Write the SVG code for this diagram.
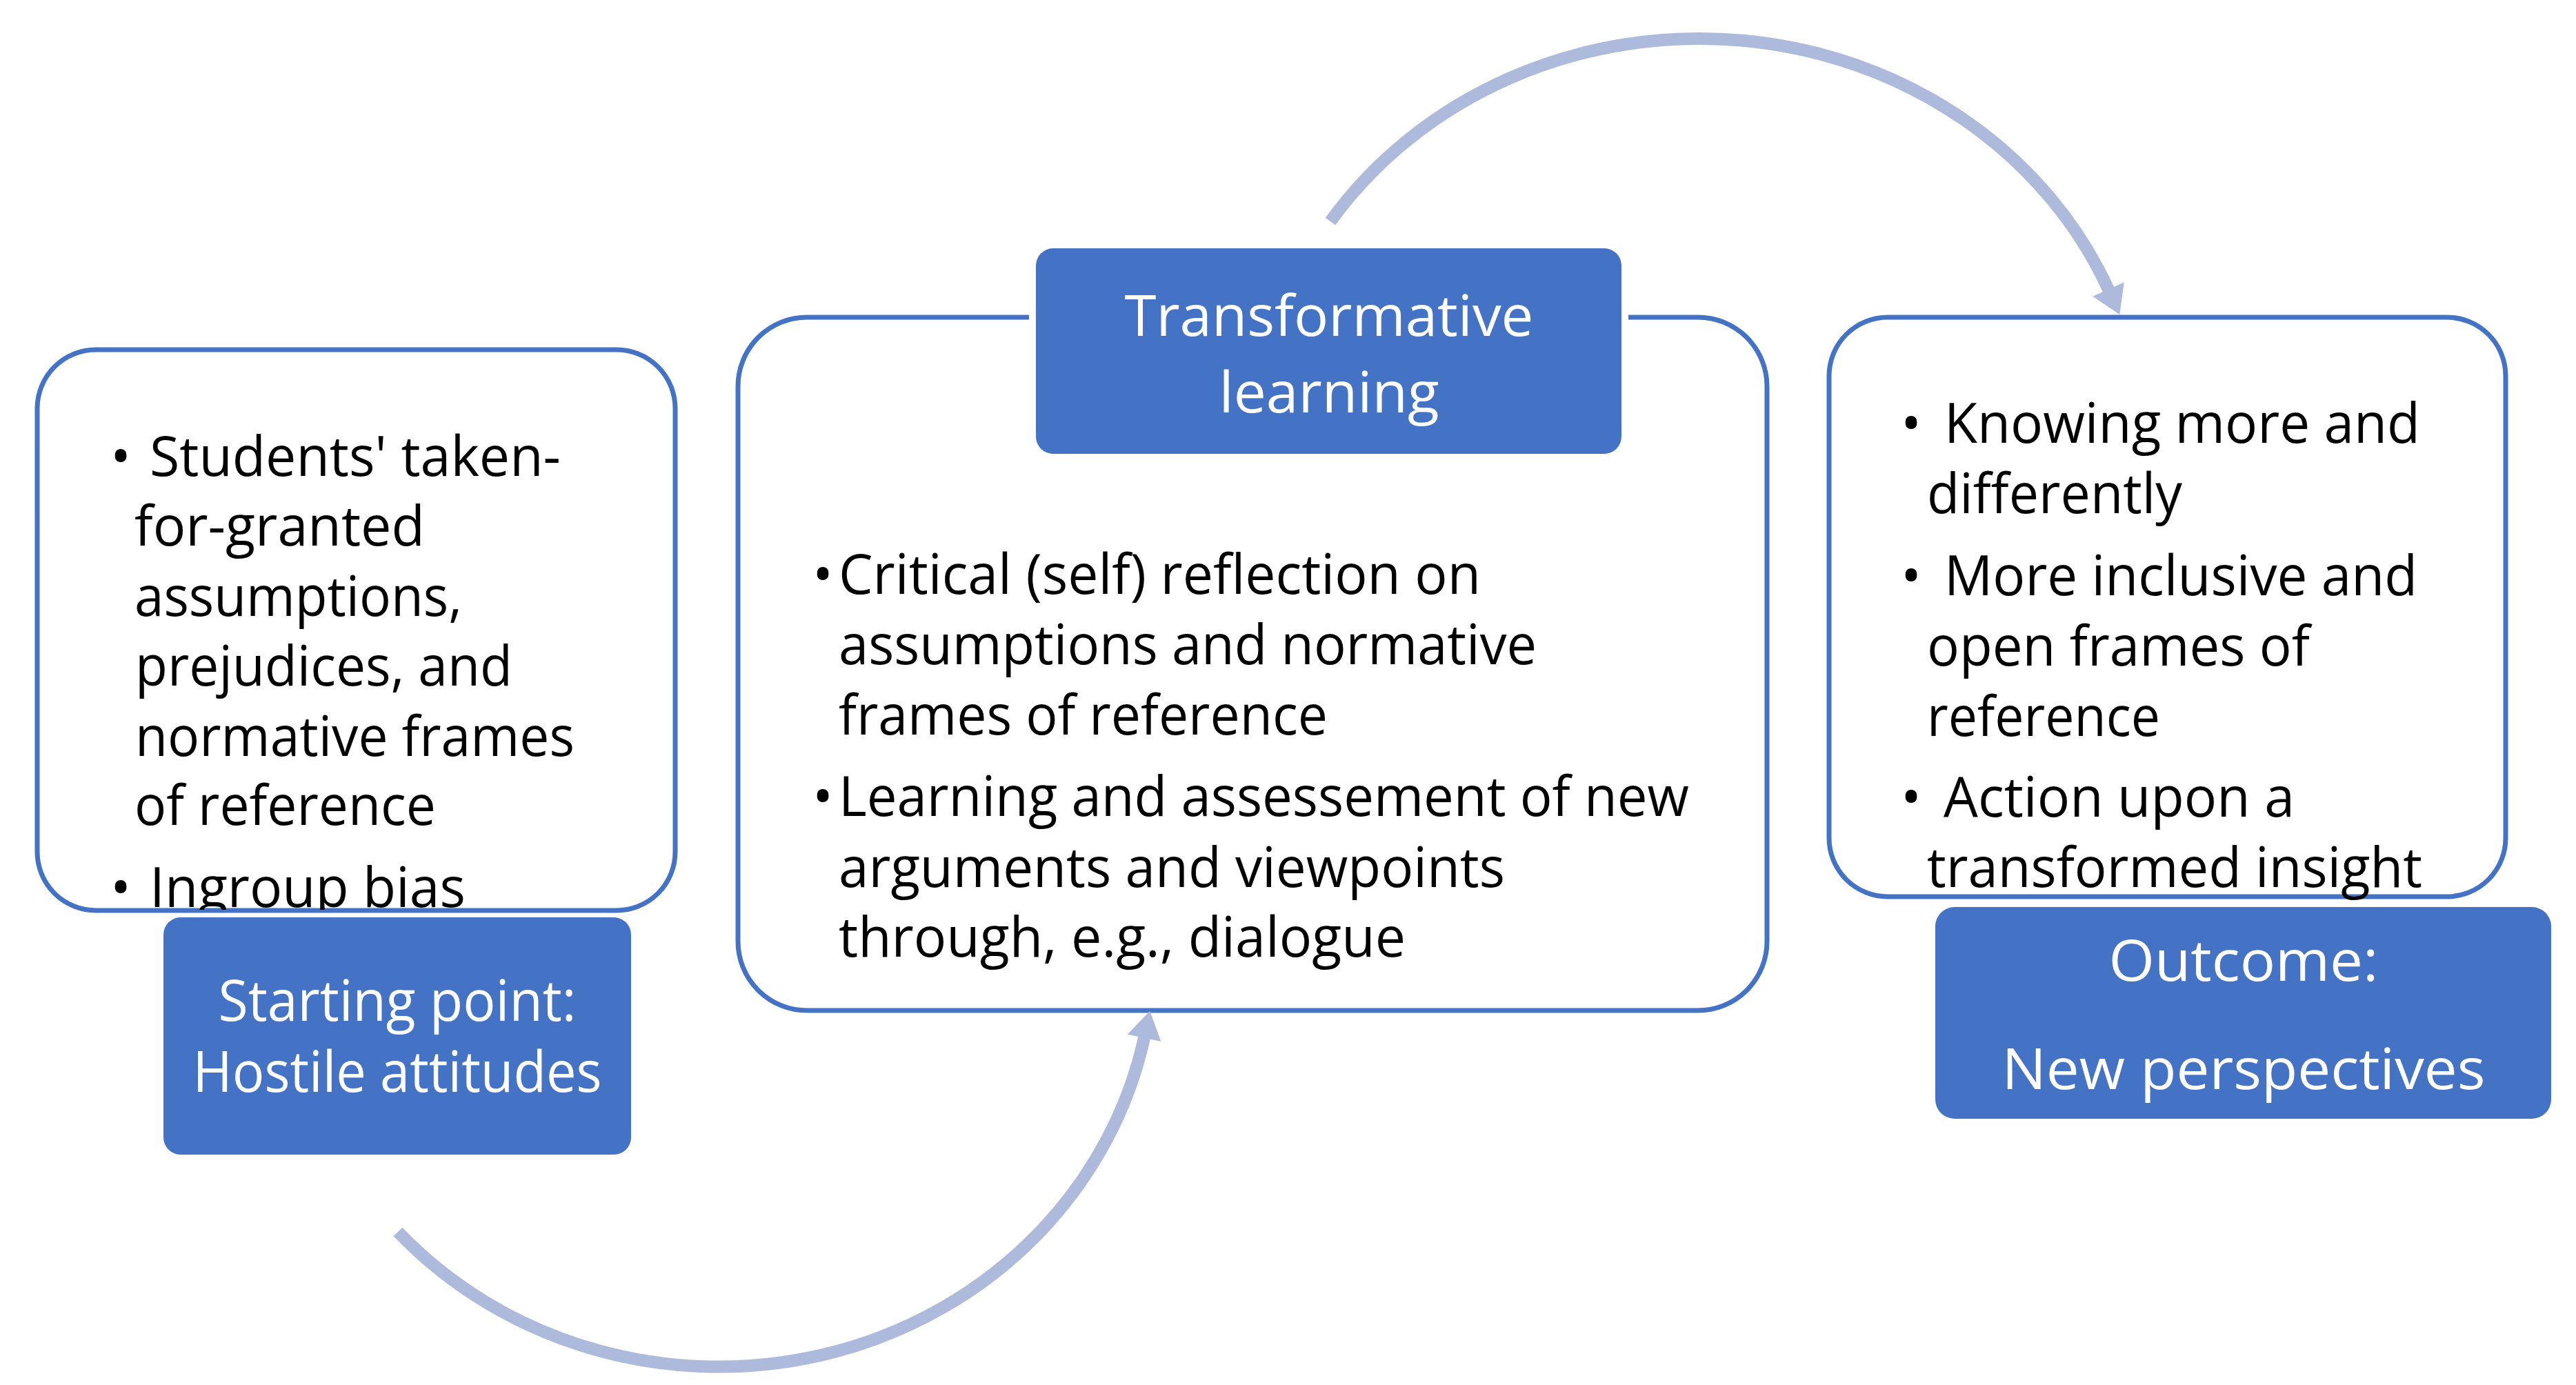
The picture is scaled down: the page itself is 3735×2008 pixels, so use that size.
<svg xmlns="http://www.w3.org/2000/svg" width="3735" height="2008" viewBox="0 0 3735 2008">
<style>
.box{fill:#fff;stroke:#4472C4;stroke-width:7}
.tag{fill:#4472C4}
.t{font-family:"Open Sans","Noto Sans","DejaVu Sans",sans-serif;font-size:80px;fill:#000}
.c{font-family:"Open Sans","Noto Sans","DejaVu Sans",sans-serif;font-size:80px;fill:#000}
.w{font-family:"Open Sans","Noto Sans","DejaVu Sans",sans-serif;font-size:82px;fill:#fff;font-weight:400;text-anchor:middle}
.arc{fill:none;stroke:#AEBADC;stroke-width:18;stroke-linecap:butt}
</style>
<defs>
<marker id="ah" markerUnits="userSpaceOnUse" markerWidth="40" markerHeight="50" viewBox="0 0 40 50" refX="5" refY="25" orient="auto">
<path d="M0,0 L40,25 L0,50 Z" fill="#AEBADC"/>
</marker>
<clipPath id="clipL"><rect x="0" y="0" width="1000" height="1319"/></clipPath>
</defs>
<rect width="3735" height="2008" fill="#fff"/>

<g id="start-box">
<rect class="box" x="54" y="507" width="925" height="813" rx="85" ry="85"/>
<g clip-path="url(#clipL)">
<text class="t" x="160" y="690">•</text>
<text class="t" x="217" y="690" textLength="596" lengthAdjust="spacingAndGlyphs">Students' taken-</text>
<text class="t" x="195" y="791" textLength="421" lengthAdjust="spacingAndGlyphs">for-granted</text>
<text class="t" x="195" y="893" textLength="475" lengthAdjust="spacingAndGlyphs">assumptions,</text>
<text class="t" x="196" y="994" textLength="547" lengthAdjust="spacingAndGlyphs">prejudices, and</text>
<text class="t" x="196" y="1096" textLength="637" lengthAdjust="spacingAndGlyphs">normative frames</text>
<text class="t" x="195" y="1196" textLength="437" lengthAdjust="spacingAndGlyphs">of reference</text>
<text class="t" x="160" y="1315">•</text>
<text class="t" x="217" y="1315" textLength="458" lengthAdjust="spacingAndGlyphs">Ingroup bias</text>
</g>
</g>

<g id="starting-point">
<rect class="tag" x="237" y="1330" width="678" height="344" rx="25" ry="25"/>
<text class="w" x="576" y="1480" textLength="519" lengthAdjust="spacingAndGlyphs">Starting point:</text>
<text class="w" x="576" y="1583" textLength="593" lengthAdjust="spacingAndGlyphs">Hostile attitudes</text>
</g>

<g id="learning-box">
<rect class="box" x="1070" y="460" width="1492" height="1005" rx="100" ry="100"/>
<text class="c" x="1178" y="861">•</text>
<text class="c" x="1216" y="861" textLength="931" lengthAdjust="spacingAndGlyphs">Critical (self) reflection on</text>
<text class="c" x="1216" y="963" textLength="1012" lengthAdjust="spacingAndGlyphs">assumptions and normative</text>
<text class="c" x="1216" y="1065" textLength="709" lengthAdjust="spacingAndGlyphs">frames of reference</text>
<text class="c" x="1178" y="1183">•</text>
<text class="c" x="1216" y="1183" textLength="1233" lengthAdjust="spacingAndGlyphs">Learning and assessement of new</text>
<text class="c" x="1216" y="1286" textLength="966" lengthAdjust="spacingAndGlyphs">arguments and viewpoints</text>
<text class="c" x="1216" y="1387" textLength="822" lengthAdjust="spacingAndGlyphs">through, e.g., dialogue</text>
</g>

<g id="transformative-learning">
<rect x="1492" y="350" width="869" height="318" rx="32" ry="32" fill="#fff"/>
<rect class="tag" x="1502" y="360" width="849" height="298" rx="25" ry="25"/>
<text class="w" x="1927" y="487" font-size="88" textLength="593" lengthAdjust="spacingAndGlyphs">Transformative</text>
<text class="w" x="1927" y="598" font-size="88" textLength="319" lengthAdjust="spacingAndGlyphs">learning</text>
</g>

<g id="outcome-box">
<rect class="box" x="2652" y="460" width="981" height="840" rx="85" ry="85"/>
<text class="t" x="2756" y="642">•</text>
<text class="t" x="2819" y="642" textLength="690" lengthAdjust="spacingAndGlyphs">Knowing more and</text>
<text class="t" x="2794" y="744" textLength="370" lengthAdjust="spacingAndGlyphs">differently</text>
<text class="t" x="2756" y="863">•</text>
<text class="t" x="2819" y="863" textLength="686" lengthAdjust="spacingAndGlyphs">More inclusive and</text>
<text class="t" x="2794" y="965" textLength="555" lengthAdjust="spacingAndGlyphs">open frames of</text>
<text class="t" x="2794" y="1067" textLength="338" lengthAdjust="spacingAndGlyphs">reference</text>
<text class="t" x="2756" y="1184">•</text>
<text class="t" x="2818" y="1184" textLength="509" lengthAdjust="spacingAndGlyphs">Action upon a</text>
<text class="t" x="2794" y="1286" textLength="718" lengthAdjust="spacingAndGlyphs">transformed insight</text>
</g>

<g id="outcome">
<rect class="tag" x="2806" y="1315" width="893" height="307" rx="28" ry="28"/>
<text class="w" x="3253" y="1422" textLength="391" lengthAdjust="spacingAndGlyphs">Outcome:</text>
<text class="w" x="3253" y="1579" textLength="701" lengthAdjust="spacingAndGlyphs">New perspectives</text>
</g>

<g id="connectors">
<path class="arc" d="M1929,321 A645,600 0 0 1 3059,424" marker-end="url(#ah)"/>
<path class="arc" d="M577,1786 A630,600 0 0 0 1660,1500" marker-end="url(#ah)"/>
</g>
</svg>
